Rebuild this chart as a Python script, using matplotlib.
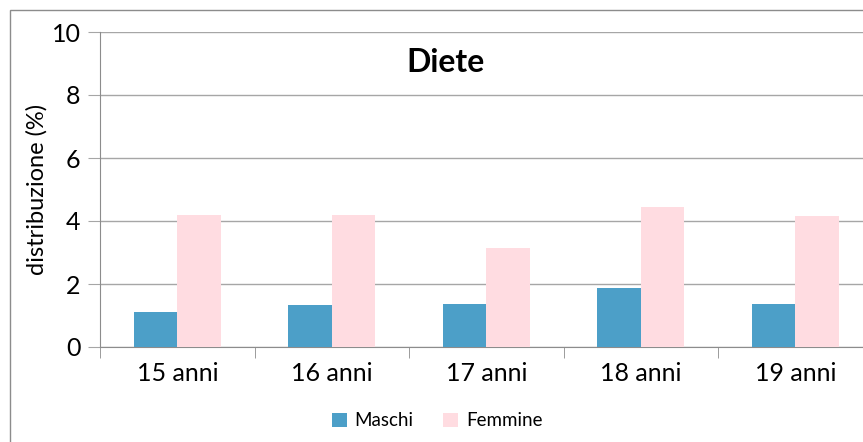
import matplotlib.pyplot as plt
from matplotlib.patches import Rectangle
import numpy as np

categorie = ["15 anni", "16 anni", "17 anni", "18 anni", "19 anni"]
maschi = [1.12, 1.34, 1.38, 1.87, 1.38]
femmine = [4.20, 4.20, 3.14, 4.44, 4.17]
yticks = [0, 2, 4, 6, 8, 10]

plt.rcParams['font.family'] = ['Lato', 'DejaVu Sans']

fig = plt.figure(figsize=(8.63, 4.42), dpi=100)
W, H = 863, 442
# outer chart border (cropped on the right and bottom)
fig.patches.append(Rectangle((10/W, -0.1), 1.2, (H-10)/H+0.1, transform=fig.transFigure,
                             fill=False, edgecolor='#8c8c8c', linewidth=1.0))

ax = fig.add_axes([100/W, (H-347)/H, 772.5/W, 315/H])
x = np.arange(len(categorie))
bw = 0.283
ax.bar(x - bw/2, maschi, bw, color='#4c9fc8', label='Maschi', zorder=3)
ax.bar(x + bw/2, femmine, bw, color='#ffdce1', label='Femmine', zorder=3)

ax.set_xlim(-0.5, 4.5)
ax.set_ylim(0, 10)
ax.set_yticks(yticks)
ax.yaxis.grid(True, color='#a6a6a6', linewidth=1.0, zorder=0)
ax.tick_params(axis='y', length=9, color='#a6a6a6', labelsize=18, pad=5)
ax.set_xticks(x)
ax.set_xticklabels(categorie)
ax.tick_params(axis='x', which='major', length=0, labelsize=18, pad=11)
ax.set_xticks(np.arange(-0.5, 5, 1), minor=True)
ax.tick_params(axis='x', which='minor', length=8, color='#8c8c8c')
for s in ['top', 'right']:
    ax.spines[s].set_visible(False)
for s in ['left', 'bottom']:
    ax.spines[s].set_color('#8c8c8c')

ax.set_ylabel('distribuzione (%)', fontsize=17, labelpad=3)
ax.text(445/W, 1-62/H, 'Diete', transform=fig.transFigure, ha='center', va='center',
        fontsize=23, fontweight='bold')

fig.legend(loc='center', bbox_to_anchor=(437/W, 1-421/H), ncol=2, frameon=False,
           fontsize=13.5, handlelength=0.8, handleheight=0.8, handletextpad=0.4,
           columnspacing=1.6)

fig.savefig('out.png', dpi=100)
